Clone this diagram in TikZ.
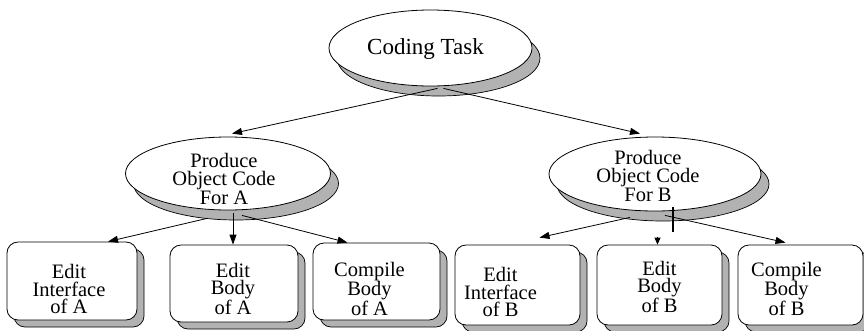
\documentclass[tikz,border=0pt]{standalone}
\usepackage{fontspec}
\setmainfont{Liberation Serif}
\usetikzlibrary{shapes.geometric,shadows,arrows.meta,calc}
\begin{document}
\begin{tikzpicture}[x=1pt,y=-1pt,
 txt/.style={inner sep=0pt, align=center, font=\fontsize{20.5}{17.5}\selectfont},
 oval/.style={ellipse, draw, fill=white, line width=0.8pt, inner sep=0pt,
   copy shadow={shadow xshift=8pt, shadow yshift=-10pt, fill=black!30, draw=black, line width=0.7pt}},
 box/.style={rectangle, rounded corners=11pt, draw, fill=white, line width=0.8pt, inner sep=0pt,
   minimum width=125pt, minimum height=80pt,
   copy shadow={shadow xshift=7pt, shadow yshift=-7pt, fill=black!30, draw=black, line width=0.7pt}},
 arr/.style={-{Triangle[length=10pt,width=7pt]}, line width=0.8pt},
 arrsmall/.style={-{Triangle[length=7pt,width=6pt]}, line width=0.8pt},
 tick/.style={line width=1.2pt}]
\useasboundingbox (0,0) rectangle (864,330);

\node[oval, minimum width=203pt, minimum height=76pt,
  label={[txt, name=ttop, font=\fontsize{23}{23}\selectfont, shift={(-5,1)}]center:Coding Task}] (top) at (430.5,48) {};
\node[oval, minimum width=205pt, minimum height=73pt,
  label={[txt, name=tA, shift={(-4,5.5)}]center:{Produce\\Object Code\\For A}}] (A) at (228,173.5) {};
\node[oval, minimum width=212pt, minimum height=74pt,
  label={[txt, name=tB, shift={(-7,2)}]center:{Produce\\Object Code\\For B}}] (B) at (655,174) {};

\node[box, minimum width=130pt, minimum height=78pt,
  label={[txt, name=t1, shift={(-3,8)}]center:{Edit\\Interface\\of A}}] (b1) at (72,281) {};
\node[box, minimum width=128pt, minimum height=77pt,
  label={[txt, name=t2, shift={(-1,5.5)}]center:{Edit\\Body\\of A}}] (b2) at (234,283.5) {};
\node[box, minimum width=127pt, minimum height=77pt,
  label={[txt, name=t3, shift={(-7,7.5)}]center:{Compile\\Body\\of A}}] (b3) at (376.5,281.5) {};
\node[box, label={[txt, name=t4, shift={(-17,7)}]center:{Edit\\Interface\\of B}}] (b4) at (517.5,285) {};
\node[box, label={[txt, name=t5, shift={(0,2)}]center:{Edit\\Body\\of B}}] (b5) at (659.5,285) {};
\node[box, label={[txt, name=t6, shift={(-14,4)}]center:{Compile\\Body\\of B}}] (b6) at (800.5,285) {};

\draw[arr] ($(top.south)+(7,2)$) -- ($(A.north)+(4,-3)$);
\draw[arr] ($(top.south)+(13,2)$) -- ($(B.north)+(-15,-3)$);

\draw[arr] ($(A.south)+(-21,8)$) -- ($(b1.north)+(36,0)$);
\draw[arr] ($(A.south)+(5,3)$) -- ($(b2.north)+(-1,0)$);
\draw[arr] ($(A.south)+(14,5)$) -- ($(b3.north)+(-29,0)$);

\draw[arr] ($(B.south)+(-25,6)$) -- ($(b4.north)+(22,-7)$);
\draw[arr] ($(B.south)+(10,4)$) -- ($(b6.north)+(-15,-2)$);
\draw[tick] ($(B.south)+(18,-4)$) -- ($(B.south)+(18,21)$);
\draw[arrsmall] ($(b5.north)+(-2,-8)$) -- ($(b5.north)+(-2,0)$);
\end{tikzpicture}
\end{document}
